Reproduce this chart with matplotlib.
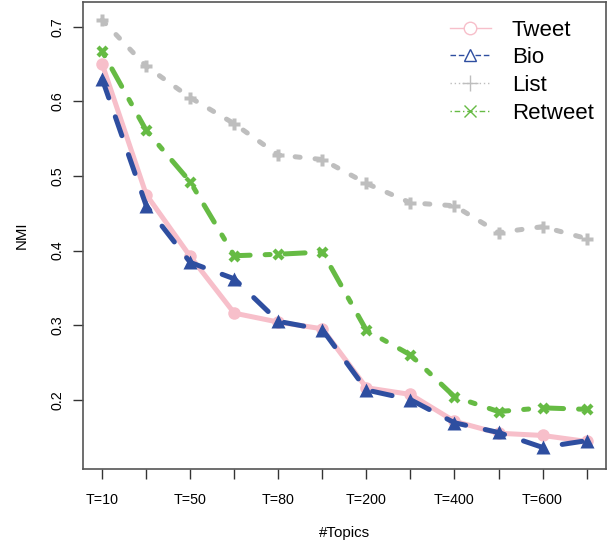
import matplotlib.pyplot as plt
from matplotlib.lines import Line2D
import numpy as np

plt.rcParams['font.family'] = ['Liberation Sans', 'DejaVu Sans']

# datos
topics = ['T=10', 'T=30', 'T=50', 'T=60', 'T=80', 'T=100',
          'T=200', 'T=300', 'T=400', 'T=500', 'T=600', 'T=700']
shown = ['T=10', 'T=50', 'T=80', 'T=200', 'T=400', 'T=600']

tweet = [0.650, 0.475, 0.392, 0.316, 0.304, 0.295, 0.216, 0.207, 0.171, 0.155, 0.152, 0.144]
bio = [0.630, 0.460, 0.384, 0.362, 0.305, 0.294, 0.213, 0.200, 0.169, 0.156, 0.136, 0.145]
lista = [0.709, 0.647, 0.605, 0.570, 0.528, 0.522, 0.490, 0.464, 0.460, 0.424, 0.432, 0.416]
retweet = [0.667, 0.561, 0.492, 0.393, 0.395, 0.398, 0.293, 0.260, 0.204, 0.184, 0.189, 0.187]

x = np.arange(1, len(topics) + 1)

fig = plt.figure(figsize=(6.09, 5.46), dpi=100)
ax = fig.add_axes([0.136, 0.141, 0.859, 0.855])

lw = 3.6
common = dict(lw=lw, solid_capstyle='round', dash_capstyle='round')

# lineas gruesas (estilo R)
ax.plot(x, lista, color='#BEBEBE', dashes=(1, 3), marker='P', ms=9, mec='none', **common)
ax.plot(x, retweet, color='#66BB44', dashes=(1, 3, 4, 3), marker='X', ms=9, mec='none', **common)
ax.plot(x, tweet, color='#F7BFCA', marker='o', ms=9, mec='none', **common)
ax.plot(x, bio, color='#2E4EA0', dashes=(4, 4), marker='^', ms=10, mec='none', **common)

ax.set_xlim(0.56, 12.44)
ax.set_ylim(0.107, 0.733)

ax.set_xticks(x)
ax.set_xticklabels([t if t in shown else '' for t in topics])
ax.set_yticks([0.2, 0.3, 0.4, 0.5, 0.6, 0.7])
ax.set_yticklabels(['0.2', '0.3', '0.4', '0.5', '0.6', '0.7'], rotation=90, va='center')
ax.tick_params(length=7, width=1, color='#333333', labelsize=10.3, pad=10)
ax.tick_params(axis='y', pad=6)

for s in ax.spines.values():
    s.set_color('#555555')
    s.set_linewidth(1.2)

ax.set_xlabel('#Topics', fontsize=10.8, labelpad=14)
ax.set_ylabel('NMI', fontsize=10.8, labelpad=16)

# leyenda con lineas finas y marcadores vacios
handles = [
    Line2D([], [], color='#F7BFCA', lw=1, marker='o', ms=9, mfc='white'),
    Line2D([], [], color='#2E4EA0', lw=1, ls=(0, (4, 2)), marker='^', ms=9, mfc='white'),
    Line2D([], [], color='#BEBEBE', lw=1, ls=(0, (1, 2)), marker='+', ms=11),
    Line2D([], [], color='#66BB44', lw=1, ls=(0, (1, 2, 4, 2)), marker='x', ms=8),
]
ax.legend(handles, ['Tweet', 'Bio', 'List', 'Retweet'], loc='upper right',
          bbox_to_anchor=(1.0, 0.989), frameon=False, fontsize=16,
          handlelength=1.85, handletextpad=0.95, labelspacing=0.3, borderaxespad=0.15)

plt.savefig('out.png', dpi=100)
